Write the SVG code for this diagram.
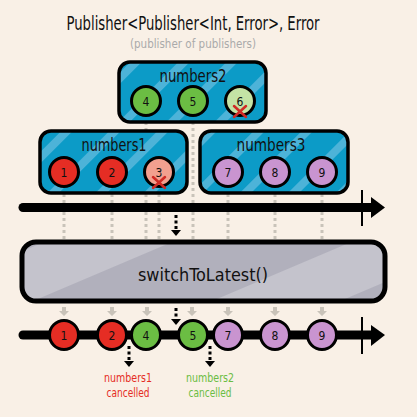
<svg xmlns="http://www.w3.org/2000/svg" width="417" height="417" viewBox="0 0 417 417">
<defs>
<style>
.t{font-family:"DejaVu Sans Condensed","DejaVu Sans","Liberation Sans",sans-serif;text-anchor:middle;fill:#111}
.box{stroke:#000;stroke-width:3.5}
.c{stroke:#000;stroke-width:3}
.n{font-family:"DejaVu Sans Condensed","DejaVu Sans","Liberation Sans",sans-serif;font-size:12px;text-anchor:middle;fill:#111}
.dot{stroke:#c9c3b9;stroke-width:3;stroke-dasharray:3 3;fill:none}
.bdot{stroke:#000;stroke-width:3;stroke-dasharray:3 2.5;fill:none}
.x{stroke:#d02a25;stroke-width:2.5;stroke-linecap:round}
.red{fill:#e52d24}.lred{fill:#f2a08f}.grn{fill:#6bbd43}.lgrn{fill:#c4e3a5}.pur{fill:#c994d0}
</style>
<pattern id="blueS" width="34" height="34" patternUnits="userSpaceOnUse" patternTransform="rotate(45)">
<rect width="34" height="34" fill="#0c9bc7"/>
<rect x="0" width="8" height="34" fill="#4db3d8"/>
</pattern>
<pattern id="grayS" width="120" height="120" patternUnits="userSpaceOnUse" patternTransform="rotate(67)">
<rect width="120" height="120" fill="#b1b0bc"/>
<rect x="0" width="50" height="120" fill="#c4c3cc"/>
</pattern>
<polygon id="gArrow" points="-2,-4 2,-4 2,0 5,0 0,5 -5,0 -2,0" fill="#c9c3b9"/>
<polygon id="bHead" points="-5,0 5,0 0,6" fill="#000"/>
</defs>
<rect width="417" height="417" fill="#f9f0e6"/>

<g id="title">
<text class="t" x="193" y="30" font-size="19" font-weight="500" textLength="253" lengthAdjust="spacingAndGlyphs">Publisher&lt;Publisher&lt;Int, Error&gt;, Error</text>
<text class="t" x="193" y="48" font-size="13" style="fill:#aaaaaa" textLength="126" lengthAdjust="spacingAndGlyphs">(publisher of publishers)</text>
</g>

<g id="connectors">
<line class="dot" x1="64" y1="194" x2="64" y2="240"/>
<line class="dot" x1="112" y1="194" x2="112" y2="240"/>
<line class="dot" x1="146" y1="122" x2="146" y2="240"/>
<line class="dot" x1="159" y1="194" x2="159" y2="240"/>
<line class="dot" x1="193" y1="122" x2="193" y2="240"/>
<line class="dot" x1="228" y1="194" x2="228" y2="240"/>
<line class="dot" x1="275" y1="194" x2="275" y2="240"/>
<line class="dot" x1="322" y1="194" x2="322" y2="240"/>
<g>
<line x1="23" y1="207.5" x2="373" y2="207.5" stroke="#000" stroke-width="9" stroke-linecap="round"/>
<polygon points="371,197 385,207.5 371,218" fill="#000"/>
<line x1="362" y1="190" x2="362" y2="226" stroke="#000" stroke-width="2"/>
</g>
<line class="bdot" x1="176" y1="215" x2="176" y2="230"/>
<use href="#bHead" x="176" y="230"/>
<use href="#gArrow" x="64" y="311"/>
<use href="#gArrow" x="112" y="311"/>
<use href="#gArrow" x="147" y="311"/>
<use href="#gArrow" x="192" y="311"/>
<use href="#gArrow" x="228" y="311"/>
<use href="#gArrow" x="275" y="311"/>
<use href="#gArrow" x="322" y="311"/>
<line class="bdot" x1="176" y1="308" x2="176" y2="319"/>
<use href="#bHead" x="176" y="319"/>
<g>
<line x1="23" y1="335" x2="373" y2="335" stroke="#000" stroke-width="9" stroke-linecap="round"/>
<polygon points="371,325 385,335 371,346" fill="#000"/>
<line x1="362" y1="317" x2="362" y2="354" stroke="#000" stroke-width="2"/>
</g>
<line class="bdot" x1="129" y1="346" x2="129" y2="361"/>
<use href="#bHead" x="129" y="361"/>
<line class="bdot" x1="210" y1="346" x2="210" y2="361"/>
<use href="#bHead" x="210" y="361"/>
</g>

<g id="numbers2">
<rect class="box" x="119" y="62" width="147" height="60" rx="11" fill="url(#blueS)"/>
<text class="t" x="193" y="82" font-size="17" textLength="67" lengthAdjust="spacingAndGlyphs">numbers2</text>
<circle class="c grn" cx="146" cy="101" r="14.5"/><text class="n" x="146" y="105.5">4</text>
<circle class="c grn" cx="193" cy="101" r="14.5"/><text class="n" x="193" y="105.5">5</text>
<circle class="c lgrn" cx="240" cy="101" r="14.5"/><text class="n" x="240" y="105.5">6</text>
<line class="x" x1="234" y1="106" x2="246" y2="117"/><line class="x" x1="246" y1="106" x2="234" y2="117"/>
</g>

<g id="numbers1">
<rect class="box" x="40" y="131" width="147" height="62" rx="11" fill="url(#blueS)"/>
<text class="t" x="114" y="151" font-size="17" textLength="65" lengthAdjust="spacingAndGlyphs">numbers1</text>
<circle class="c red" cx="64" cy="172" r="14.5"/><text class="n" x="64" y="176.5">1</text>
<circle class="c red" cx="112" cy="172" r="14.5"/><text class="n" x="112" y="176.5">2</text>
<circle class="c lred" cx="159" cy="172" r="14.5"/><text class="n" x="159" y="176.5">3</text>
<line class="x" x1="153" y1="177" x2="165" y2="188"/><line class="x" x1="165" y1="177" x2="153" y2="188"/>
</g>

<g id="numbers3">
<rect class="box" x="200" y="131" width="148" height="62" rx="11" fill="url(#blueS)"/>
<text class="t" x="271" y="151" font-size="17" textLength="69" lengthAdjust="spacingAndGlyphs">numbers3</text>
<circle class="c pur" cx="228" cy="172" r="14.5"/><text class="n" x="228" y="176.5">7</text>
<circle class="c pur" cx="275" cy="172" r="14.5"/><text class="n" x="275" y="176.5">8</text>
<circle class="c pur" cx="322" cy="172" r="14.5"/><text class="n" x="322" y="176.5">9</text>
</g>

<g id="switchToLatest">
<rect x="22" y="242" width="363" height="59" rx="14" fill="url(#grayS)" stroke="#000" stroke-width="5"/>
<text class="t" x="203" y="281" font-size="17" textLength="130" lengthAdjust="spacingAndGlyphs">switchToLatest()</text>
</g>

<g id="out1"><circle class="c red" cx="64" cy="335" r="14.5"/><text class="n" x="64" y="339.5">1</text></g>
<g id="out2"><circle class="c red" cx="112" cy="335" r="14.5"/><text class="n" x="112" y="339.5">2</text></g>
<g id="out4"><circle class="c grn" cx="146" cy="335" r="14.5"/><text class="n" x="146" y="339.5">4</text></g>
<g id="out5"><circle class="c grn" cx="193" cy="335" r="14.5"/><text class="n" x="193" y="339.5">5</text></g>
<g id="out7"><circle class="c pur" cx="228" cy="335" r="14.5"/><text class="n" x="228" y="339.5">7</text></g>
<g id="out8"><circle class="c pur" cx="275" cy="335" r="14.5"/><text class="n" x="275" y="339.5">8</text></g>
<g id="out9"><circle class="c pur" cx="322" cy="335" r="14.5"/><text class="n" x="322" y="339.5">9</text></g>

<g id="note1">
<text class="t" x="128" y="382" font-size="13" style="fill:#e52d24" textLength="48" lengthAdjust="spacingAndGlyphs">numbers1</text>
<text class="t" x="128" y="397" font-size="13" style="fill:#e52d24" textLength="43" lengthAdjust="spacingAndGlyphs">cancelled</text>
</g>
<g id="note2">
<text class="t" x="210" y="382" font-size="13" style="fill:#6bbd43" textLength="48" lengthAdjust="spacingAndGlyphs">numbers2</text>
<text class="t" x="210" y="397" font-size="13" style="fill:#6bbd43" textLength="43" lengthAdjust="spacingAndGlyphs">cancelled</text>
</g>
</svg>
